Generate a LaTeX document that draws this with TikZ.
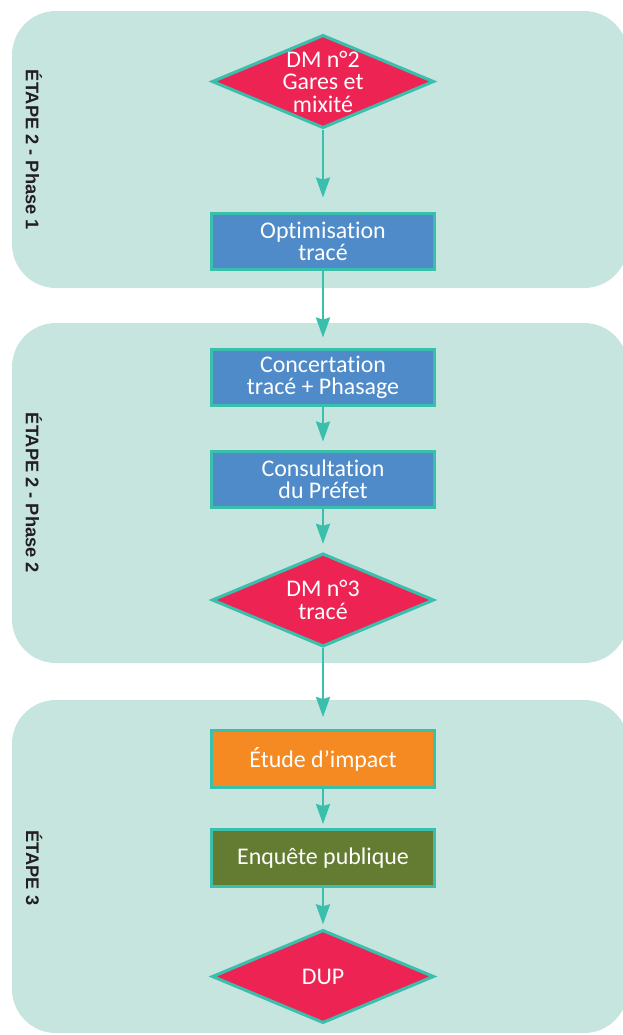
\documentclass[tikz,border=0pt]{standalone}
\usepackage{fontspec}
\newfontfamily\boxfont[Ligatures=NoCommon]{Carlito}
\newfontfamily\stepfont{Liberation Sans}
\usetikzlibrary{shapes.geometric,arrows.meta}
\definecolor{stepfill}{HTML}{C6E5DF}
\definecolor{edgeteal}{HTML}{3BBFAD}
\definecolor{boxblue}{HTML}{4F8BC9}
\definecolor{dmred}{HTML}{EC2353}
\definecolor{studyorange}{HTML}{F48A21}
\definecolor{inquirygreen}{HTML}{647B32}
\definecolor{steptext}{HTML}{231F20}

\begin{document}
\begin{tikzpicture}[x=0.025cm, y=-0.025cm,
  panel/.style={fill=stepfill, rounded corners=1.1cm},
  steplabel/.style={rotate=-90, text=steptext, font=\stepfont\bfseries\fontsize{13}{15}\selectfont},
  task/.style={draw=edgeteal, line width=2.2pt, text=white, align=center,
    minimum width=5.575cm, minimum height=1.42cm, inner sep=0pt,
    font=\boxfont\fontsize{17}{16}\selectfont},
  decision/.style={task, shape=diamond, aspect=2.4, fill=dmred,
    minimum width=5.55cm, minimum height=2.33cm, inner sep=-4pt},
  flow/.style={draw=edgeteal, line width=1.8pt, shorten >=0.2cm,
    -{Stealth[length=0.5cm, width=0.35cm, inset=0.05cm]}}]
\useasboundingbox (0,0) rectangle (623,1035);
\fill[panel] (12,11) rectangle (628,288);
\fill[panel] (12,323) rectangle (628,663);
\fill[panel] (12,700) rectangle (628,1033);
\node[steplabel] (phase1) at (34,150){ÉTAPE 2 - Phase 1};
\node[steplabel] (phase2) at (34,493){ÉTAPE 2 - Phase 2};
\node[steplabel] (etape3) at (34,868){ÉTAPE 3};
\node[decision] (dm2) at (323,81.5){DM n°2\\Gares et\\mixité};
\node[task, fill=boxblue] (optim) at (323,241.5){Optimisation\\tracé};
\node[task, fill=boxblue] (concert) at (323,377.5){Concertation\\tracé + Phasage};
\node[task, fill=boxblue] (prefet) at (323,479.5){Consultation\\du Préfet};
\node[decision] (dm3) at (323,600){DM n°3\\tracé};
\node[task, fill=studyorange] (impact) at (323,759){Étude d’impact};
\node[task, fill=inquirygreen] (enquete) at (323,858){Enquête publique};
\node[decision] (dup) at (323,976.5){DUP};
\draw[flow, shorten >=0.35cm] (dm2) -- (optim);
\draw[flow, shorten >=0.25cm] (optim) -- (concert);
\draw[flow] (concert) -- (prefet);
\draw[flow] (prefet) -- (dm3);
\draw[flow, shorten >=0.3cm] (dm3) -- (impact);
\draw[flow, shorten >=0.1cm] (impact) -- (enquete);
\draw[flow, shorten >=0.1cm] (enquete) -- (dup);
\end{tikzpicture}
\end{document}
